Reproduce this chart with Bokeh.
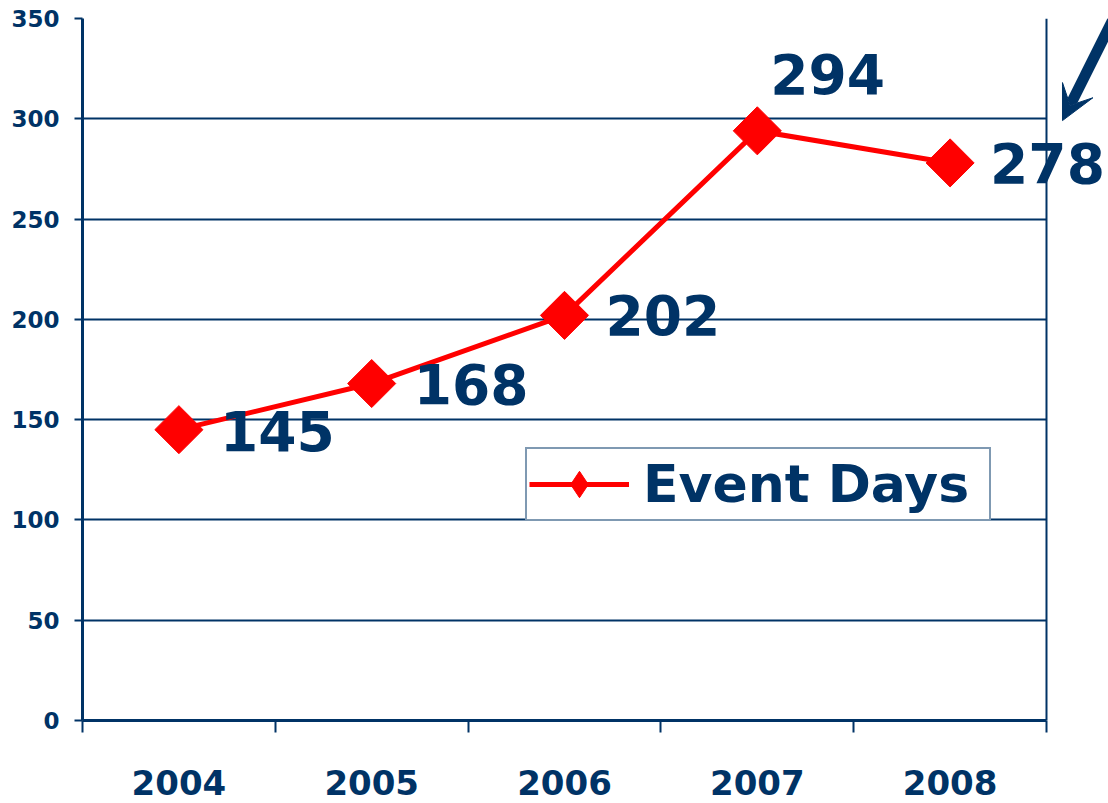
from bokeh.plotting import figure
from bokeh.models import (Range1d, FixedTicker, ColumnDataSource, LabelSet, Legend,
                          LegendItem, Arrow, VeeHead, Span, BoxAnnotation)
from bokeh.core.properties import value
from bokeh.embed import file_html
from bokeh.resources import INLINE
import numpy as np

# ---- data ----
years = ["2004", "2005", "2006", "2007", "2008"]
event_days = [145, 168, 202, 294, 278]
labels = ["145", "168", "202", "294", "278"]
y_ticks = [0, 50, 100, 150, 200, 250, 300, 350]

# ---- style ----
NAVY = "#003366"
RED = "#FF0000"
FONT = "DejaVu Sans"
label_dx = [41, 42, 41, 13, 40]
label_dy = [-1, 0, 0, 57, 0]

n = len(years)
xpos = [i + 0.5 for i in range(n)]
bounds = [i for i in range(n + 1)]
X_EXTRA = 0.3216   # space right of the plot area (for the arrow / last label)

p = figure(width=1108, height=803, output_backend="svg", toolbar_location=None,
           x_range=Range1d(0, n + X_EXTRA), y_range=Range1d(0, 350),
           min_border_left=82, min_border_right=0, min_border_top=18, min_border_bottom=83)
p.background_fill_color = "white"
p.border_fill_color = "white"
p.outline_line_color = None

src = ColumnDataSource(dict(x=xpos, y=event_days, text=labels, dx=label_dx, dy=label_dy))

# grid (masked to the right of the last category)
p.xgrid.grid_line_color = None
p.ygrid.ticker = FixedTicker(ticks=y_ticks)
p.ygrid.grid_line_color = NAVY
p.ygrid.grid_line_width = 2
p.add_layout(BoxAnnotation(left=n, fill_color="white", fill_alpha=1.0,
                           line_color=None, level="underlay"))
p.add_layout(Span(location=n, dimension="height", line_color=NAVY, line_width=2,
                  level="underlay"))

line = p.line("x", "y", source=src, line_color=RED, line_width=5, line_join="round")
leg_pts = p.scatter("x", "y", source=src, marker="diamond", size=44,
                    fill_color=RED, line_color=RED)
pts = p.scatter("x", "y", source=src, marker="square", size=34, angle=np.pi / 4,
                fill_color=RED, line_color=RED)

# axes
xa = p.xaxis[0]
xa.bounds = (0, n)
xa.ticker = FixedTicker(ticks=xpos, minor_ticks=bounds)
xa.major_label_overrides = {x: y for x, y in zip(xpos, years)}
xa.major_tick_line_color = None
xa.major_tick_out = 0
xa.major_tick_in = 0
xa.minor_tick_line_color = NAVY
xa.minor_tick_line_width = 2
xa.minor_tick_out = 12
xa.minor_tick_in = 0
xa.axis_line_color = NAVY
xa.axis_line_width = 3
xa.major_label_text_font = FONT
xa.major_label_text_font_style = "bold"
xa.major_label_text_font_size = "34px"
xa.major_label_text_color = NAVY
xa.major_label_standoff = 37

ya = p.yaxis[0]
ya.ticker = FixedTicker(ticks=y_ticks, minor_ticks=[])
ya.major_tick_line_color = NAVY
ya.major_tick_line_width = 2
ya.major_tick_out = 8
ya.major_tick_in = 0
ya.minor_tick_line_color = None
ya.axis_line_color = NAVY
ya.axis_line_width = 3
ya.major_label_text_font = FONT
ya.major_label_text_font_style = "bold"
ya.major_label_text_font_size = "23px"
ya.major_label_text_color = NAVY
ya.major_label_standoff = 15

# data labels
ls = LabelSet(x="x", y="y", text="text", source=src, x_offset="dx", y_offset="dy",
              text_font=value(FONT), text_font_style="bold", text_font_size="55px",
              text_color=NAVY, text_align="left", text_baseline="middle")
p.add_layout(ls)

# legend
legend = Legend(items=[LegendItem(label="Event Days", renderers=[line, leg_pts])],
                location=(443, 199), orientation="vertical",
                glyph_width=100, glyph_height=66, label_standoff=14, label_width=344,
                padding=2, margin=0,
                label_text_font=FONT, label_text_font_style="bold",
                label_text_font_size="52px", label_text_color=NAVY,
                label_text_baseline="middle",
                border_line_color=NAVY, border_line_width=2,
                background_fill_color="white", background_fill_alpha=1.0)
p.add_layout(legend, "center")

# arrow
p.add_layout(Arrow(x_start=5.41, y_start=362.0, x_end=5.083, y_end=299.1,
                   line_color=NAVY, line_width=11,
                   end=VeeHead(size=34, fill_color=NAVY, fill_alpha=1.0, line_color=NAVY)))

open("out.html", "w").write(file_html(p, INLINE))
